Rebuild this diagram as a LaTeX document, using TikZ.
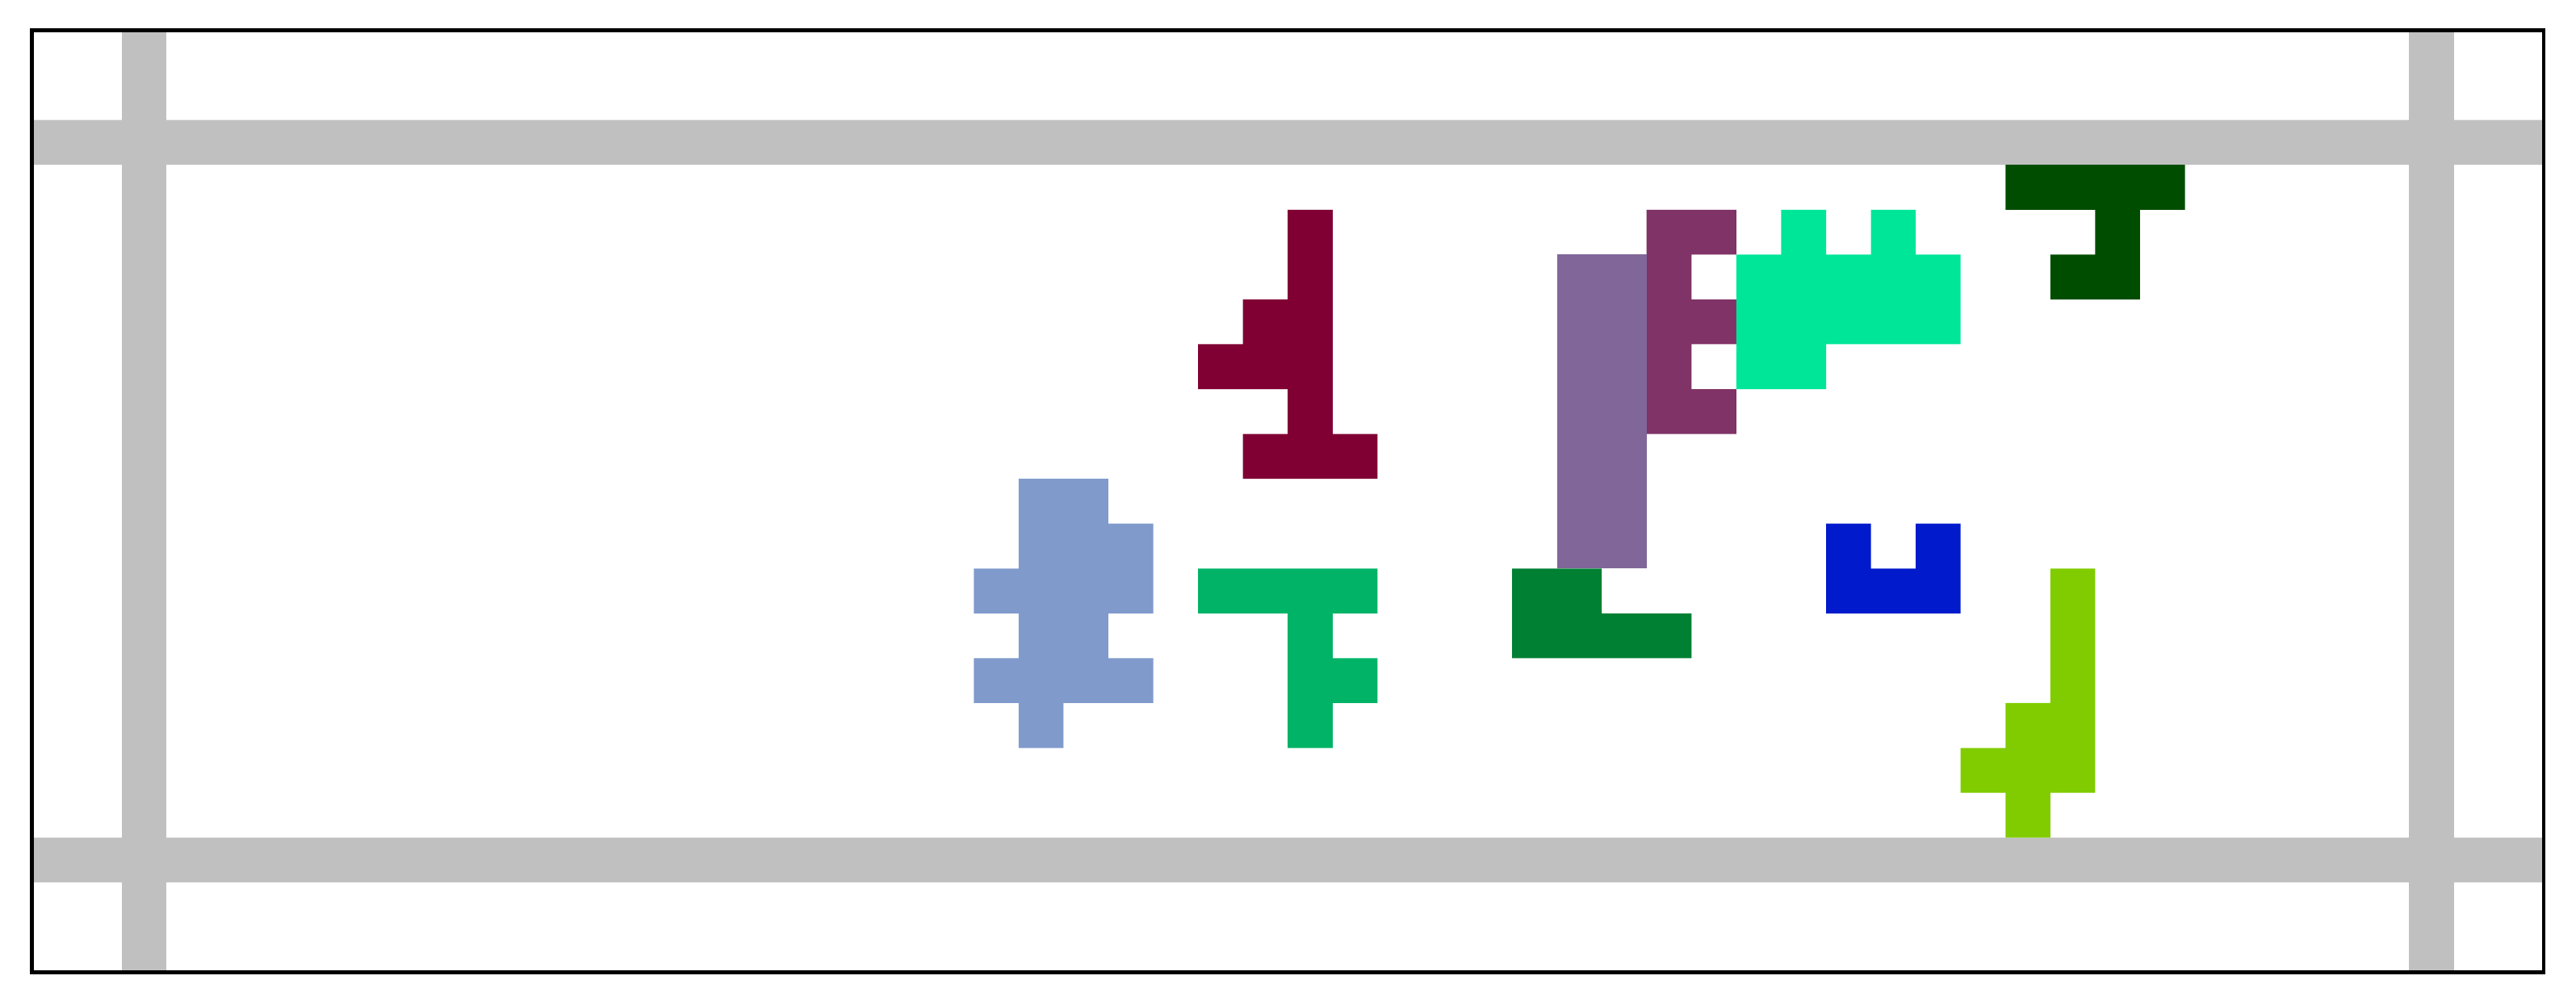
\documentclass[tikz,border=0pt]{standalone}
\usepackage{xcolor}
\usepackage{tikz}
\usetikzlibrary{calc}

\definecolor{barGray}{HTML}{C0C0C0}
\definecolor{wine}{HTML}{800033}
\definecolor{plum}{HTML}{803366}
\definecolor{mauve}{HTML}{806699}
\definecolor{mint}{HTML}{00E699}
\definecolor{pine}{HTML}{004D00}
\definecolor{steel}{HTML}{809ACC}
\definecolor{jade}{HTML}{00B366}
\definecolor{forest}{HTML}{008033}
\definecolor{royal}{HTML}{001ACC}
\definecolor{lime}{HTML}{80CC00}

\begin{document}
\begin{tikzpicture}
			[x=0.5cm, y=-0.5cm, frame/.style={draw=black, line width=1.2pt}]
		\useasboundingbox (-0.71,-0.675) rectangle (56.72,21.725);
		% bars %
		\fill[barGray] (0,2) rectangle (56,3) (0,18) rectangle (56,19);
		\foreach \c in {2,53}
			\fill[barGray] (\c,0) rectangle (\c+1,21);

		% pieces %
		\fill[wine] (28,4) rectangle (29,10) (27,6) rectangle (28,8)
			(26,7) rectangle (27,8) (27,9) rectangle (30,10);
		\fill[plum] (36,4) rectangle (37,9) (37,4) rectangle (38,5)
			(37,6) rectangle (38,7) (37,8) rectangle (38,9);
		\fill[mauve] (34,5) rectangle (36,12);
		\fill[mint] (39,4) rectangle (40,5) (41,4) rectangle (42,5)
			(38,5) rectangle (43,7) (38,7) rectangle (40,8);
		\fill[pine] (44,3) rectangle (48,4) (46,4) rectangle (47,6)
			(45,5) rectangle (46,6);
		\fill[steel] (22,10) rectangle (24,11) (22,11) rectangle (25,12)
			(21,12) rectangle (25,13) (22,13) rectangle (24,14)
			(21,14) rectangle (25,15) (22,15) rectangle (23,16);
		\fill[jade] (26,12) rectangle (30,13) (28,13) rectangle (29,16)
			(29,14) rectangle (30,15);
		\fill[forest] (33,12) rectangle (35,14) (35,13) rectangle (37,14);
		\fill[royal] (40,11) rectangle (41,12) (42,11) rectangle (43,12)
			(40,12) rectangle (43,13);
		\fill[lime] (45,12) rectangle (46,17) (44,15) rectangle (45,18)
			(43,16) rectangle (44,17);

		% border %
		\draw[frame] (0,0) rectangle (56,21);
		\end{tikzpicture}
\end{document}
